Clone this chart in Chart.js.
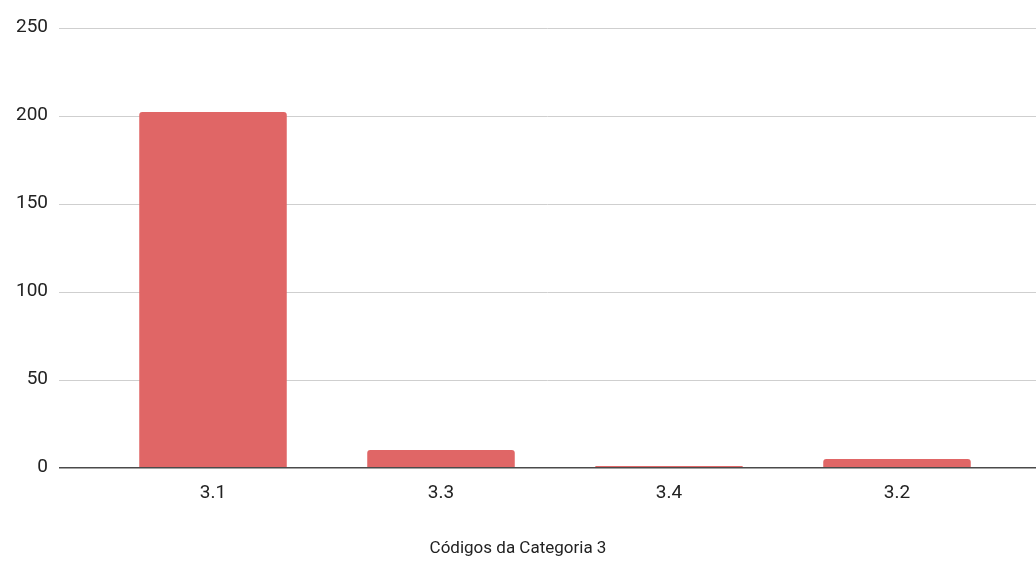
<!DOCTYPE html>
<html>
<head>
<meta charset="utf-8">
<script src="https://cdn.jsdelivr.net/npm/chart.js@4"></script>
<style>
  html, body { margin: 0; padding: 0; background: #ffffff; }
  #wrap { width: 1036px; height: 561px; }
</style>
</head>
<body>
<div id="wrap"><canvas id="chart" width="1036" height="561"></canvas></div>
<script>
// Contagem por código da categoria 3
const categories = ['3.1', '3.3', '3.4', '3.2'];
const counts = [202, 10, 1, 5];
const yTicks = [0, 50, 100, 150, 200, 250];
const xTitle = 'Códigos da Categoria 3';

const FONT = 'Roboto, "Liberation Sans", Arial, sans-serif';
const TICK_SIZE = 19;
const TITLE_SIZE = 17;
const GRID_LEFT = 59;

// Horizontal gridlines across the full width, plus the dark baseline on top of the bars
const fullGrid = {
  id: 'fullGrid',
  beforeDatasetsDraw(chart) {
    const y = chart.scales.y;
    const ctx = chart.ctx;
    ctx.save();
    ctx.strokeStyle = '#cfcfcf';
    ctx.lineWidth = 1;
    yTicks.forEach(v => {
      if (v === 0) return;
      const py = Math.round(y.getPixelForValue(v)) + 0.5;
      ctx.beginPath();
      ctx.moveTo(GRID_LEFT, py);
      ctx.lineTo(chart.width, py);
      ctx.stroke();
    });
    ctx.restore();
  },
  afterDatasetsDraw(chart) {
    const y = chart.scales.y;
    const ctx = chart.ctx;
    const py = y.getPixelForValue(0);
    ctx.save();
    ctx.strokeStyle = '#4a4a4a';
    ctx.lineWidth = 1.6;
    ctx.beginPath();
    ctx.moveTo(GRID_LEFT, py);
    ctx.lineTo(chart.width, py);
    ctx.stroke();
    ctx.restore();
  }
};

new Chart(document.getElementById('chart'), {
  type: 'bar',
  data: {
    labels: categories,
    datasets: [{
      data: counts,
      backgroundColor: '#e06666',
      borderWidth: 0,
      borderRadius: 3,
      categoryPercentage: 1,
      barPercentage: 0.647
    }]
  },
  options: {
    responsive: false,
    animation: false,
    events: [],
    layout: { padding: { top: 27.5, right: 0, bottom: 0, left: 0 } },
    plugins: {
      legend: { display: false },
      tooltip: { enabled: false },
      title: {
        display: true,
        position: 'bottom',
        text: xTitle,
        color: '#222222',
        font: { family: FONT, size: TITLE_SIZE, weight: 'normal' },
        padding: { top: 0, bottom: 1.8 }
      }
    },
    scales: {
      x: {
        grid: { display: false, drawTicks: false },
        border: { display: false },
        ticks: {
          color: '#222222',
          font: { family: FONT, size: TICK_SIZE },
          padding: 14
        },
        afterFit(scale) { scale.height = 71.1; }
      },
      y: {
        min: 0,
        max: 250,
        afterBuildTicks(scale) { scale.ticks = yTicks.map(v => ({ value: v })); },
        grid: { display: true, color: 'rgba(0,0,0,0)', drawTicks: true, tickLength: 43 },
        border: { display: false },
        ticks: {
          color: '#222222',
          font: { family: FONT, size: TICK_SIZE },
          padding: 8
        },
        afterFit(scale) { scale.width = 99; }
      },
      // empty right-hand strip that keeps the bars clear of the right edge
      yRight: {
        position: 'right',
        display: true,
        grid: { display: false, drawTicks: false },
        border: { display: false },
        ticks: { display: false },
        afterFit(scale) { scale.width = 25; }
      }
    }
  },
  plugins: [fullGrid]
});
</script>
</body>
</html>
